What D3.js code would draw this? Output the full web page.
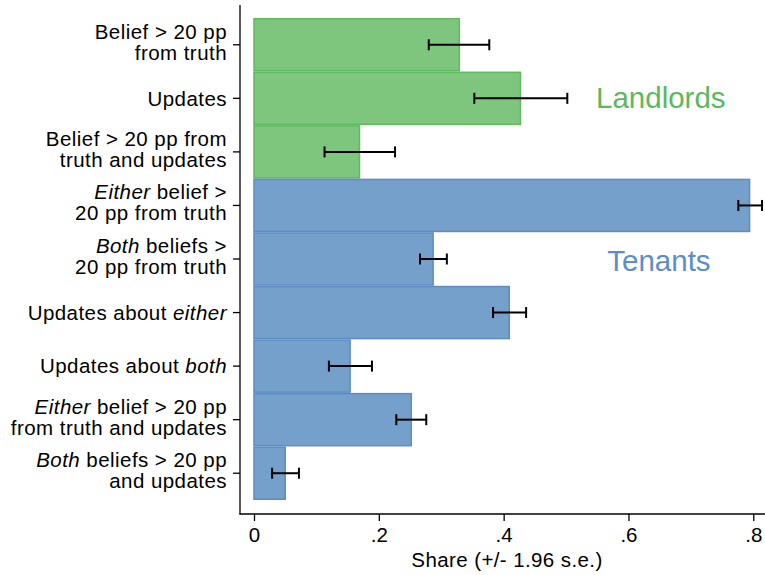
<!DOCTYPE html>
<html>
<head>
<meta charset="utf-8">
<script src="https://cdn.jsdelivr.net/npm/d3@7"></script>
<style>
  body { margin: 0; background: #fff; }
  svg { font-family: "Liberation Sans", Arial, Helvetica, sans-serif; }
</style>
</head>
<body>
<svg id="chart"></svg>
<script>
// Categories, top to bottom. "|" breaks a line, *...* is italic
const categories = [
  "Belief > 20 pp|from truth",
  "Updates",
  "Belief > 20 pp from|truth and updates",
  "*Either* belief >|20 pp from truth",
  "*Both* beliefs >|20 pp from truth",
  "Updates about *either*",
  "Updates about *both*",
  "*Either* belief > 20 pp|from truth and updates",
  "*Both* beliefs > 20 pp|and updates"
];
const groups = ["Landlords", "Landlords", "Landlords",
  "Tenants", "Tenants", "Tenants", "Tenants", "Tenants", "Tenants"];
const shares = [0.329, 0.427, 0.169, 0.794, 0.287, 0.409, 0.154, 0.252, 0.050];
const ciLow  = [0.280, 0.353, 0.113, 0.776, 0.266, 0.383, 0.120, 0.228, 0.029];
const ciHigh = [0.377, 0.502, 0.226, 0.814, 0.309, 0.436, 0.189, 0.276, 0.072];
const xTicks = [0, 0.2, 0.4, 0.6, 0.8];
const xTickLabels = ["0", ".2", ".4", ".6", ".8"];
const groupLabels = ["Landlords", "Tenants"];
const xTitle = "Share (+/- 1.96 s.e.)";

const W = 765, H = 575;
const fill = { Landlords: "#7ec67e", Tenants: "#76a0cc" };
const edge = { Landlords: "#5dba5d", Tenants: "#5b8cc4" };
const text = { Landlords: "#5cb85c", Tenants: "#5b8dc8" };

const svg = d3.select("#chart").attr("width", W).attr("height", H);

// Scales
const x = d3.scaleLinear().domain([0, 0.8]).range([254, 753.3]);
const y = d3.scaleBand().domain(categories).range([18, 500]).padding(0);
const axisX = 240, axisY = 514;

const rows = categories.map((c, i) => ({
  cat: c, group: groups[i], v: shares[i], lo: ciLow[i], hi: ciHigh[i]
}));

// Bars
svg.append("g").selectAll("rect").data(rows).join("rect")
  .attr("x", x(0))
  .attr("y", d => y(d.cat) + 0.75)
  .attr("width", d => x(d.v) - x(0))
  .attr("height", y.bandwidth() - 1.5)
  .attr("fill", d => fill[d.group])
  .attr("stroke", d => edge[d.group])
  .attr("stroke-width", 1.5);

// Error bars
const eb = svg.append("g").attr("stroke", "#000").attr("stroke-width", 2);
const cy = d => y(d.cat) + y.bandwidth() / 2;
eb.selectAll("line.ci").data(rows).join("line").attr("class", "ci")
  .attr("x1", d => x(d.lo)).attr("x2", d => x(d.hi))
  .attr("y1", cy).attr("y2", cy);
eb.selectAll("line.capl").data(rows).join("line").attr("class", "capl")
  .attr("x1", d => x(d.lo)).attr("x2", d => x(d.lo))
  .attr("y1", d => cy(d) - 5.5).attr("y2", d => cy(d) + 5.5);
eb.selectAll("line.caph").data(rows).join("line").attr("class", "caph")
  .attr("x1", d => x(d.hi)).attr("x2", d => x(d.hi))
  .attr("y1", d => cy(d) - 5.5).attr("y2", d => cy(d) + 5.5);

// Group labels
const groupPos = { Landlords: { x: 0.548, cat: 1, dy: 10 }, Tenants: { x: 0.566, cat: 4, dy: 12 } };
svg.selectAll("text.grp").data(groupLabels).join("text").attr("class", "grp")
  .attr("x", g => x(groupPos[g].x))
  .attr("y", g => y(categories[groupPos[g].cat]) + y.bandwidth() / 2 + groupPos[g].dy)
  .attr("fill", g => text[g])
  .style("font-size", "29.5px")
  .text(g => g);

// Y axis
const yAxisG = svg.append("g")
  .attr("transform", `translate(${axisX},0)`)
  .call(d3.axisLeft(y).tickSize(7).tickPadding(6).tickSizeOuter(0));
yAxisG.select(".domain").remove();
yAxisG.selectAll(".tick line").attr("stroke", "#000").attr("stroke-width", 1.3);
yAxisG.selectAll(".tick text").each(function (d) {
  const t = d3.select(this).text(null)
    .attr("fill", "#000").style("font-size", "20.5px")
    .style("letter-spacing", "0.45px").attr("dy", null);
  const lines = d.split("|");
  lines.forEach((ln, i) => {
    const first = i === 0 ? (lines.length > 1 ? -6 : 7.2) : 21;
    let started = false;
    ln.split("*").forEach((part, k) => {
      if (!part) return;
      const s = t.append("tspan").text(part)
        .style("font-style", k % 2 === 1 ? "italic" : "normal");
      if (!started) { s.attr("x", -13).attr("dy", first); started = true; }
    });
  });
});
svg.append("line")
  .attr("x1", axisX).attr("x2", axisX).attr("y1", 5).attr("y2", axisY + 0.5)
  .attr("stroke", "#000").attr("stroke-width", 1.3);

// X axis
const xAxisG = svg.append("g")
  .attr("transform", `translate(0,${axisY})`)
  .call(d3.axisBottom(x).tickValues(xTicks)
    .tickFormat((d, i) => xTickLabels[i]).tickSize(7).tickPadding(6).tickSizeOuter(0));
xAxisG.select(".domain").remove();
xAxisG.selectAll(".tick line").attr("stroke", "#000").attr("stroke-width", 1.3);
xAxisG.selectAll(".tick text").attr("fill", "#000").style("font-size", "20.5px");
svg.append("line")
  .attr("x1", axisX - 0.5).attr("x2", W).attr("y1", axisY).attr("y2", axisY)
  .attr("stroke", "#000").attr("stroke-width", 1.3);

svg.append("text")
  .attr("x", 507).attr("y", 567)
  .attr("text-anchor", "middle")
  .style("font-size", "20.5px")
  .style("letter-spacing", "0.4px")
  .text(xTitle);
</script>
</body>
</html>
